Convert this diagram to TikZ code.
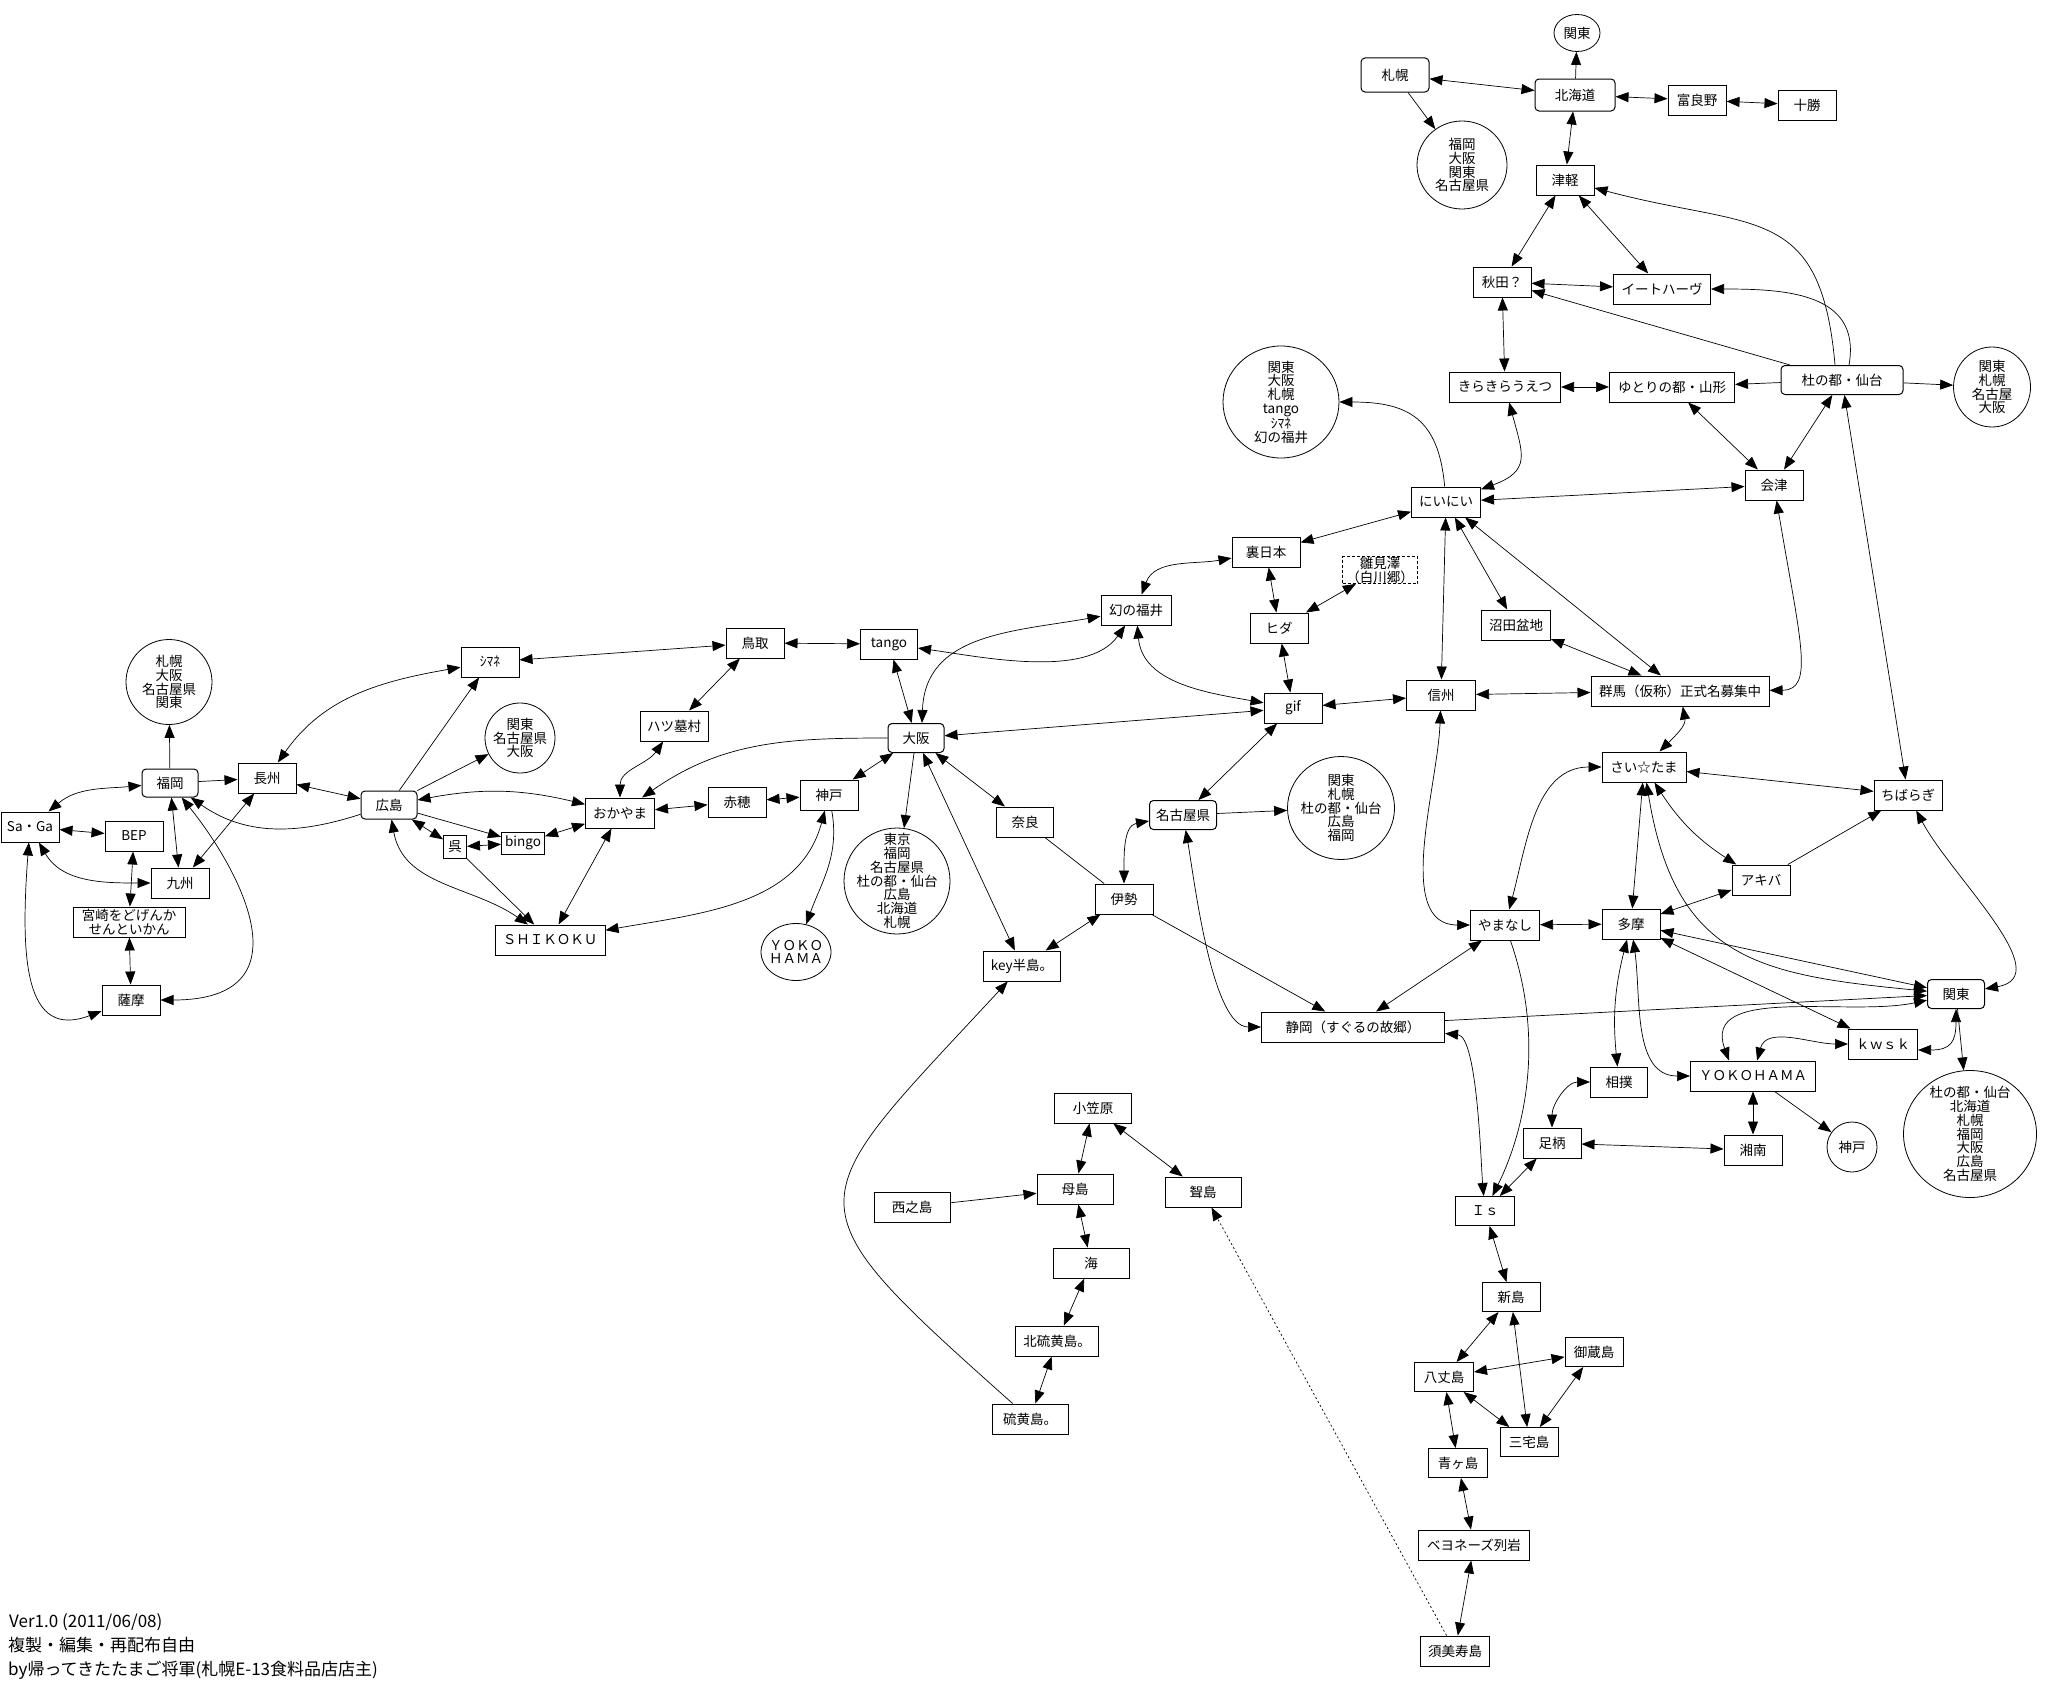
\documentclass[tikz,border=0pt]{standalone}
\usepackage{fontspec}
\setmainfont{Noto Sans CJK JP}
\usetikzlibrary{arrows.meta,shapes.geometric,backgrounds}
\newcommand{\mylbl}{\fontsize{13.5}{14}\selectfont}
\newcommand{\myelbl}{\fontsize{13.5}{13.8}\selectfont}
\newcommand{\myfoot}{\fontsize{17}{17}\selectfont}
\begin{document}
\begin{tikzpicture}[x=1pt,y=-1pt,
  box/.style={draw,line width=1pt,rectangle,fill=white,inner sep=0pt,minimum width=58pt,minimum height=30pt,font=\mylbl,align=center},
  rbox/.style={box,rounded corners=4pt},
  dbox/.style={box,line width=0.8pt,dash pattern=on 3pt off 2pt},
  ell/.style={draw,line width=0.8pt,ellipse,fill=white,inner sep=0pt,font=\mylbl},
  etext/.style={inner sep=0pt,align=center,font=\myelbl},
  foot/.style={inner sep=0pt,anchor=west,font=\myfoot},
  con/.style={line width=0.7pt},
  bi/.style={con,{Triangle[length=13pt,width=10pt]}-{Triangle[length=13pt,width=10pt]}},
  uni/.style={con,-{Triangle[length=13pt,width=10pt]}},
  pl/.style={con}]
\useasboundingbox (0,0) rectangle (2052,1686);

% ---------------- nodes: north-east ----------------
\node[ell,minimum width=46pt,minimum height=37pt] (kantoA) at (1577,33) {関東};
\node[rbox,minimum width=68pt,minimum height=34pt] (sapporo) at (1395,75) {札幌};
\node[rbox,minimum width=80pt,minimum height=32pt] (hokkaido) at (1575,95) {北海道};
\node[box] (furano) at (1697,100) {富良野};
\node[box] (tokachi) at (1807,105) {十勝};
\node[ell,minimum width=90pt,minimum height=88pt] (ellSap) at (1462,165) {};
\node[etext] (ellSapT) at (ellSap) {福岡\\大阪\\関東\\名古屋県};
\node[box] (tsugaru) at (1565,180) {津軽};
\node[box] (akita) at (1502,282) {秋田？};
\node[box,minimum width=97pt] (ihatov) at (1662,289) {イートハーヴ};
\node[box,minimum width=111pt] (kira) at (1505,387) {きらきらうえつ};
\node[box,minimum width=125pt] (yamagata) at (1672,387) {ゆとりの都・山形};
\node[rbox,minimum width=122pt,minimum height=29pt] (sendai) at (1842,380) {杜の都・仙台};
\node[ell,minimum width=77pt,minimum height=80pt] (ellSendai) at (1992,387) {};
\node[etext] (ellSendaiT) at (ellSendai) {関東\\札幌\\名古屋\\大阪};
\node[box] (aizu) at (1774,485) {会津};
\node[ell,minimum width=116pt,minimum height=112pt] (ellNini) at (1281,402) {};
\node[etext] (ellNiniT) at (ellNini) {関東\\大阪\\札幌\\tango\\ｼﾏﾈ\\幻の福井};
\node[box,minimum width=69pt] (nini) at (1446,502) {にいにい};
\node[box,minimum width=68pt] (urajp) at (1266,552) {裏日本};
\node[dbox,minimum width=75pt,minimum height=27pt] (hinami) at (1380,570) {雛見澤\\（白川郷）};
\node[box] (hida) at (1279,628) {ヒダ};
\node[box,minimum width=69pt] (numata) at (1516,625) {沼田盆地};
\node[box] (gif) at (1293,708) {gif};
\node[box,minimum width=69pt] (shinshu) at (1441,695) {信州};
\node[box,minimum width=178pt] (gunma) at (1680,691) {群馬（仮称）正式名募集中};

% ---------------- nodes: Kanto ----------------
\node[box,minimum width=84pt] (saitama) at (1644,767) {さい☆たま};
\node[box,minimum width=68pt] (chiba) at (1908,795) {ちばらぎ};
\node[box] (akiba) at (1761,880) {アキバ};
\node[box,minimum width=69pt] (yamanashi) at (1505,925) {やまなし};
\node[box] (tama) at (1631,924) {多摩};
\node[rbox,minimum width=57pt,minimum height=29pt] (kanto) at (1956,994) {関東};
\node[box,minimum width=69pt] (kwsk) at (1883,1044) {ｋｗｓｋ};
\node[box,minimum width=125pt] (yokohama) at (1753,1076) {ＹＯＫＯＨＡＭＡ};
\node[box,minimum width=57pt] (sumo) at (1619,1082) {相撲};
\node[box] (ashigara) at (1552,1143) {足柄};
\node[box] (shonan) at (1753,1150) {湘南};
\node[ell,minimum width=50pt,minimum height=50pt] (ellKobe) at (1852,1147) {神戸};
\node[ell,minimum width=133pt,minimum height=127pt] (ellKanto) at (1970,1134) {};
\node[etext] (ellKantoT) at (ellKanto) {杜の都・仙台\\北海道\\札幌\\福岡\\大阪\\広島\\名古屋県};

% ---------------- nodes: Izu islands ----------------
\node[box,minimum width=59pt,minimum height=29pt] (is) at (1485,1211) {Ｉｓ};
\node[box,minimum height=29pt] (niijima) at (1511,1297) {新島};
\node[box,minimum height=29pt] (mikura) at (1594,1352) {御蔵島};
\node[box,minimum width=59pt,minimum height=29pt] (hachijo) at (1444,1377) {八丈島};
\node[box,minimum height=29pt] (miyake) at (1529,1442) {三宅島};
\node[box,minimum width=59pt,minimum height=29pt] (aoga) at (1458,1463) {青ヶ島};
\node[box,minimum width=111pt] (bayon) at (1474,1545) {ベヨネーズ列岩};
\node[box,minimum width=69pt] (sumisu) at (1455,1651) {須美寿島};

% ---------------- nodes: Ogasawara ----------------
\node[box,minimum width=77pt] (ogasa) at (1093,1108) {小笠原};
\node[box,minimum width=76pt] (haha) at (1075,1189) {母島};
\node[box,minimum width=76pt] (nishino) at (912,1207) {西之島};
\node[box,minimum width=76pt] (muko) at (1203,1192) {聟島};
\node[box,minimum width=76pt] (umi) at (1091,1263) {海};
\node[box,minimum width=83pt] (kitaiwo) at (1057,1341) {北硫黄島。};
\node[box,minimum width=76pt] (iwo) at (1030,1419) {硫黄島。};

% ---------------- nodes: Chubu / Kinki ----------------
\node[box,minimum width=57pt] (nara) at (1025,822) {奈良};
\node[rbox,minimum width=67pt,minimum height=29pt] (nagoya) at (1183,815) {名古屋県};
\node[ell,minimum width=107pt,minimum height=103pt] (ellNagoya) at (1341,808) {};
\node[etext] (ellNagoyaT) at (ellNagoya) {関東\\札幌\\杜の都・仙台\\広島\\福岡};
\node[box] (ise) at (1124,899) {伊勢};
\node[box,minimum width=77pt] (keyh) at (1022,966) {key半島。};
\node[box,minimum width=183pt] (shizuoka) at (1353,1027) {静岡（すぐるの故郷）};
\node[rbox,minimum width=56pt,minimum height=29pt] (osaka) at (916,738) {大阪};
\node[box] (kobe) at (829,795) {神戸};
\node[ell,minimum width=106pt,minimum height=106pt] (ellOsaka) at (897,881) {};
\node[etext] (ellOsakaT) at (ellOsaka) {東京\\福岡\\名古屋県\\杜の都・仙台\\広島\\北海道\\札幌};
\node[ell,minimum width=70pt,minimum height=57pt] (ellYoko) at (796,952) {};
\node[etext] (ellYokoT) at (ellYoko) {ＹＯＫＯ\\ＨＡＭＡ};
\node[box,minimum width=70pt] (fukui) at (1136,610) {幻の福井};
\node[box] (shimane) at (490,662) {ｼﾏﾈ};
\node[box] (tottori) at (755,643) {鳥取};
\node[box,minimum width=57pt] (tango) at (889,644) {tango};
\node[box,minimum width=68pt] (yatsuhaka) at (674,726) {ハツ墓村};
\node[ell,minimum width=70pt,minimum height=70pt] (ellHiro) at (520,738) {};
\node[etext] (ellHiroT) at (ellHiro) {関東\\名古屋県\\大阪};
\node[box,minimum width=69pt] (okayama) at (620,813) {おかやま};
\node[box] (ako) at (737,802) {赤穂};
\node[box,minimum width=23pt,minimum height=23pt] (kure) at (455,847) {呉};
\node[box,minimum width=43pt,minimum height=22pt] (bingo) at (523,843) {bingo};
\node[box,minimum width=110pt] (shikoku) at (550,940) {ＳＨＩＫＯＫＵ};

% ---------------- nodes: Kyushu / Chugoku ----------------
\node[ell,minimum width=86pt,minimum height=85pt] (ellFuku) at (169,682) {};
\node[etext] (ellFukuT) at (ellFuku) {札幌\\大阪\\名古屋県\\関東};
\node[rbox,minimum width=56pt,minimum height=28pt] (fukuoka) at (170,783) {福岡};
\node[box] (choshu) at (267,778) {長州};
\node[rbox,minimum width=56pt,minimum height=28pt] (hiroshima) at (389,805) {広島};
\node[box] (saga) at (30,827) {Sa・Ga};
\node[box] (bep) at (134,836) {BEP};
\node[box] (kyushu) at (180,883) {九州};
\node[box,minimum width=112pt] (miyazaki) at (129,922) {宮崎をどげんか\\せんといかん};
\node[box] (satsuma) at (131,1000) {薩摩};

% ---------------- footer ----------------
\node[foot] (f1) at (9,1622) {Ver1.0 (2011/06/08)};
\node[foot] (f2) at (8,1645) {複製・編集・再配布自由};
\node[foot] (f3) at (8,1670) {by帰ってきたたまご将軍(札幌E-13食料品店店主)};

\begin{pgfonlayer}{background}
\fill[white] (0,0) rectangle (2052,1686);
% north
\draw[uni] (hokkaido) -- (kantoA);
\draw[bi] (sapporo) -- (hokkaido);
\draw[uni] (sapporo) -- (ellSap);
\draw[bi] (hokkaido) -- (furano);
\draw[bi] (furano) -- (tokachi);
\draw[bi] (hokkaido) -- (tsugaru);
\draw[bi] (tsugaru) -- (akita);
\draw[bi] (tsugaru) -- (ihatov);
\draw[bi] (akita) -- (ihatov);
\draw[uni] ([xshift=-7pt]sendai.north) to[out=95,in=-15,looseness=1.4] (tsugaru);
\draw[uni] ([xshift=7pt]sendai.north) to[out=80,in=0,looseness=1.2] (ihatov);
\draw[uni] (sendai) -- (akita);
\draw[bi] (akita) -- (kira);
\draw[bi] (kira) -- (yamagata);
\draw[uni] (sendai) -- (yamagata);
\draw[uni] (sendai) -- (ellSendai);
\draw[bi] (yamagata) -- (aizu);
\draw[bi] (sendai) -- (aizu);
\draw[bi] (sendai) -- (chiba);
\draw[uni] (nini) to[out=95,in=0,looseness=1.3] (ellNini);
\draw[bi] (kira) to[out=-75,in=20,looseness=1.5] (nini);
\draw[bi] (nini) -- (aizu);
\draw[bi] (aizu) .. controls (1800,640) and (1815,690) .. (gunma);
\draw[bi] (nini) -- (urajp);
\draw[bi] (nini) -- (shinshu);
\draw[bi] (nini) -- (numata);
\draw[bi] (nini) -- (gunma);
\draw[bi] (numata) -- (gunma);
\draw[bi] (shinshu) -- (gunma);
\draw[bi] (gif) -- (shinshu);
\draw[bi] (urajp) -- (hida);
\draw[bi] (hida) -- (hinami);
\draw[bi] (hida) -- (gif);
\draw[bi] (urajp) to[out=190,in=70] (fukui);
\draw[bi] (fukui) to[out=-85,in=170] (gif);
\draw[bi] (tango) to[out=-8,in=-125,looseness=0.8] (fukui);
\draw[bi] ([xshift=6pt]osaka.north) to[out=88,in=190,looseness=1.1] (fukui);
\draw[bi] (tango) -- (osaka);
\draw[bi] (tottori) -- (tango);
\draw[bi] (shimane) -- (tottori);
\draw[bi] (tottori) -- (yatsuhaka);
\draw[bi] (yatsuhaka) to[out=-125,in=90] (okayama);
\draw[uni] (osaka) to[out=180,in=35] (okayama);
\draw[bi] (gif) -- (osaka);
\draw[bi] (osaka) -- (kobe);
\draw[uni] (osaka) -- (ellOsaka);
\draw[bi] (osaka) -- (keyh);
\draw[bi] (osaka) -- (nara);
\draw[pl] (nara) -- (ise);
\draw[bi] (ise) to[out=90,in=190] (nagoya);
\draw[bi] (ise) -- (keyh);
\draw[uni] (ise) -- (shizuoka);
\draw[bi] (gif) -- (nagoya);
\draw[uni] (nagoya) -- (ellNagoya);
\draw[bi] (nagoya) to[out=-80,in=180,looseness=0.6] (shizuoka);
% kanto
\draw[bi] (shinshu) to[out=-92,in=180,looseness=0.9] (yamanashi);
\draw[bi] (saitama) to[out=180,in=75] (yamanashi);
\draw[bi] (yamanashi) -- (tama);
\draw[bi] (yamanashi) -- (shizuoka);
\draw[uni] (yamanashi) .. controls (1545,1040) and (1525,1130) .. (is);
\draw[bi] (shizuoka.-4) to[out=-5,in=95,looseness=0.5] (is);
\draw[uni] (shizuoka.4) -- (kanto);
\draw[bi] (gunma) to[out=-80,in=45] (saitama);
\draw[bi] (saitama) -- (tama);
\draw[bi] (saitama) -- (chiba);
\draw[bi] (saitama) to[bend right=12] (akiba);
\draw[bi] (saitama) .. controls (1675,960) and (1760,975) .. (kanto);
\draw[bi] (akiba) -- (tama);
\draw[uni] (akiba) -- (chiba);
\draw[bi] (tama) -- (kanto);
\draw[bi] (tama) -- (kwsk);
\draw[bi] (tama) to[bend right=10] (sumo);
\draw[bi] (tama) to[out=-82,in=180] (yokohama);
\draw[bi] (chiba) to[out=-62,in=10] (kanto);
\draw[bi] (kanto) to[out=192,in=110] ([xshift=-24pt]yokohama.north);
\draw[bi] (kwsk) to[out=180,in=75] (yokohama);
\draw[bi] (kanto) to[out=-90,in=0,looseness=1.5] ([yshift=-6pt]kwsk.east);
\draw[uni] (kanto) -- (ellKanto);
\draw[bi] (yokohama) -- (shonan);
\draw[uni] (yokohama) -- (ellKobe);
\draw[bi] (sumo) to[out=180,in=90] (ashigara);
\draw[bi] (ashigara) -- (shonan);
\draw[bi] (ashigara) -- (is);
% izu
\draw[bi] (is) -- (niijima);
\draw[bi] (niijima) -- (hachijo);
\draw[bi] (niijima) -- (miyake);
\draw[bi] (hachijo) -- (mikura);
\draw[bi] (hachijo) -- (miyake);
\draw[bi] (mikura) -- (miyake);
\draw[bi] (hachijo) -- (aoga);
\draw[bi] (aoga) -- (bayon);
\draw[bi] (bayon) -- (sumisu);
\draw[uni,dash pattern=on 2pt off 2.5pt] (sumisu) -- (muko);
% ogasawara
\draw[bi] (ogasa) -- (haha);
\draw[bi] (ogasa) -- (muko);
\draw[uni] (nishino) -- (haha);
\draw[bi] (haha) -- (umi);
\draw[bi] (umi) -- (kitaiwo);
\draw[bi] (kitaiwo) -- (iwo);
\draw[uni] (iwo) .. controls (782,1198) and (798,1208) .. (keyh);
% chugoku / shikoku
\draw[bi] (hiroshima) to[bend left=12] (okayama);
\draw[uni] (hiroshima) -- (bingo);
\draw[bi] (hiroshima) -- (kure);
\draw[bi] (kure) -- (bingo);
\draw[bi] (bingo) -- (okayama);
\draw[uni] (kure) -- (shikoku);
\draw[bi] (hiroshima) to[out=-80,in=145] (shikoku);
\draw[bi] (okayama) -- (shikoku);
\draw[bi] (kobe) to[out=-105,in=10] (shikoku);
\draw[uni] (kobe) to[out=-80,in=70] (ellYoko);
\draw[bi] (ako) -- (kobe);
\draw[bi] (okayama) -- (ako);
\draw[bi] (shimane) to[out=190,in=55] (choshu);
\draw[uni] (hiroshima) -- (shimane);
\draw[uni] (hiroshima) -- (ellHiro);
\draw[bi] (choshu) -- (hiroshima);
% kyushu
\draw[uni] (fukuoka) -- (choshu);
\draw[uni] (fukuoka) -- (ellFuku);
\draw[uni] (hiroshima) to[out=198,in=-35] (fukuoka);
\draw[bi] (saga) to[out=40,in=185] (fukuoka);
\draw[bi] (saga) -- (bep);
\draw[bi] (saga) to[out=-60,in=180] (kyushu);
\draw[bi] (saga) .. controls (20,960) and (25,1040) .. (satsuma);
\draw[bi] (fukuoka) -- (kyushu);
\draw[bi] (choshu) -- (kyushu);
\draw[bi] (fukuoka) .. controls (240,870) and (310,1000) .. (satsuma);
\draw[bi] (bep) -- (miyazaki);
\draw[bi] (miyazaki) -- (satsuma);
\end{pgfonlayer}
\end{tikzpicture}
\end{document}
